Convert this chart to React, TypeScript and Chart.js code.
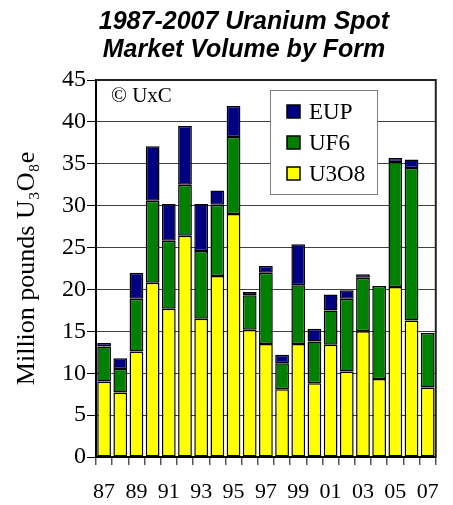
import { useEffect, useRef } from 'react';
import { Chart, registerables } from 'chart.js';

Chart.register(...registerables);

const years = ['87', '88', '89', '90', '91', '92', '93', '94', '95', '96', '97', '98', '99', '00', '01', '02', '03', '04', '05', '06', '07'];
const u3o8 = [9.0, 7.7, 12.6, 20.8, 17.7, 26.4, 16.5, 21.6, 29.0, 15.2, 13.5, 8.1, 13.5, 8.8, 13.4, 10.2, 15.0, 9.3, 20.3, 16.3, 8.3];
const uf6 = [4.2, 2.8, 6.3, 9.8, 8.1, 6.1, 8.1, 8.5, 9.2, 4.1, 8.5, 3.1, 7.0, 5.0, 4.1, 8.7, 6.4, 11.1, 14.9, 18.2, 6.5];
const eup = [0.4, 1.3, 3.1, 6.5, 4.4, 7.0, 5.6, 1.7, 3.7, 0.4, 0.8, 1.0, 4.9, 1.5, 1.9, 1.0, 0.4, 0, 0.5, 1.0, 0];
const seriesNames = ['U3O8', 'UF6', 'EUP'];
const seriesColors = ['#FFFF00', '#008000', '#000080'];
const titleLines = ['1987-2007 Uranium Spot', 'Market Volume by Form'];
const yAxisTitle = 'Million pounds U\u2083O\u2088e';
const copyright = '\u00A9 UxC';

const SERIF = '"Liberation Serif", "Times New Roman", serif';
const SANS = '"Liberation Sans", Arial, sans-serif';

const decorPlugin = {
  id: 'decor',
  afterDraw(chart: any) {
    const { ctx, chartArea } = chart;
    const { left, right, top } = chartArea;
    ctx.save();
    // plot frame (top & right)
    ctx.strokeStyle = '#222';
    ctx.lineWidth = 2;
    ctx.beginPath();
    ctx.moveTo(left, top);
    ctx.lineTo(right, top);
    ctx.lineTo(right, chartArea.bottom);
    ctx.stroke();

    // title
    ctx.fillStyle = '#000';
    ctx.font = `italic bold 25px ${SANS}`;
    ctx.textAlign = 'center';
    ctx.textBaseline = 'alphabetic';
    ctx.fillText(titleLines[0], 244, 29);
    ctx.fillText(titleLines[1], 244, 57);

    // copyright
    ctx.font = `21px ${SERIF}`;
    ctx.textAlign = 'left';
    ctx.fillText(copyright, left + 15, top + 22);

    // legend
    const bx = 270, by = 90, bw = 107, bh = 104;
    ctx.fillStyle = '#fff';
    ctx.fillRect(bx, by, bw, bh);
    ctx.strokeStyle = '#808080';
    ctx.lineWidth = 1;
    ctx.strokeRect(bx + 0.5, by + 0.5, bw, bh);
    const items = chart.data.datasets.slice().reverse();
    items.forEach((ds: any, i: number) => {
      const cy = by + 22 + i * 31;
      ctx.fillStyle = ds.backgroundColor;
      ctx.fillRect(bx + 17, cy - 7, 13, 13);
      ctx.strokeStyle = '#000';
      ctx.lineWidth = 1.5;
      ctx.strokeRect(bx + 17, cy - 7, 13, 13);
      ctx.fillStyle = '#000';
      ctx.font = `23px ${SERIF}`;
      ctx.textBaseline = 'middle';
      ctx.fillText(ds.label, bx + 39, cy + 1);
    });
    ctx.restore();
  },
};

export default function App() {
  const ref = useRef<HTMLCanvasElement>(null);
  useEffect(() => {
    document.body.style.margin = '0';
    const values = [u3o8, uf6, eup];
    const chart = new Chart(ref.current as HTMLCanvasElement, {
      type: 'bar',
      data: {
        labels: years,
        datasets: values.map((v, i) => ({
          label: seriesNames[i],
          data: v,
          backgroundColor: seriesColors[i],
          borderColor: '#000',
          borderWidth: 1.5,
          borderSkipped: false,
          barPercentage: 0.85,
          categoryPercentage: 1,
        })),
      },
      options: {
        responsive: false,
        animation: false,
        layout: { padding: { top: 80, right: 13, left: 0, bottom: 0 } },
        plugins: {
          legend: { display: false },
          title: { display: false },
          tooltip: { enabled: false },
        },
        scales: {
          x: {
            stacked: true,
            afterFit: (s: any) => { s.height = 48; },
            grid: { offset: true, drawOnChartArea: false, tickLength: 8, tickColor: '#555', lineWidth: 1.5 },
            border: { color: '#000', width: 2 },
            ticks: {
              autoSkip: false,
              maxRotation: 0,
              padding: 14,
              color: '#000',
              font: { family: SERIF, size: 22 },
              callback: (_v: any, i: number) => (i % 2 === 0 ? years[i] : ''),
            },
          },
          y: {
            stacked: true,
            min: 0,
            max: 45,
            afterFit: (s: any) => { s.width = 96; },
            grid: { color: '#404040', lineWidth: 1, tickLength: 9, tickColor: '#000' },
            border: { color: '#000', width: 2 },
            ticks: { stepSize: 5, padding: 1, color: '#000', font: { family: SERIF, size: 24 } },
            title: {
              display: true,
              text: yAxisTitle,
              color: '#000',
              font: { family: SERIF, size: 26 },
              padding: { top: 12, bottom: 0 },
            },
          },
        },
      },
      plugins: [decorPlugin],
    });
    return () => chart.destroy();
  }, []);
  return <canvas ref={ref} width={453} height={505} style={{ display: 'block' }} />;
}
